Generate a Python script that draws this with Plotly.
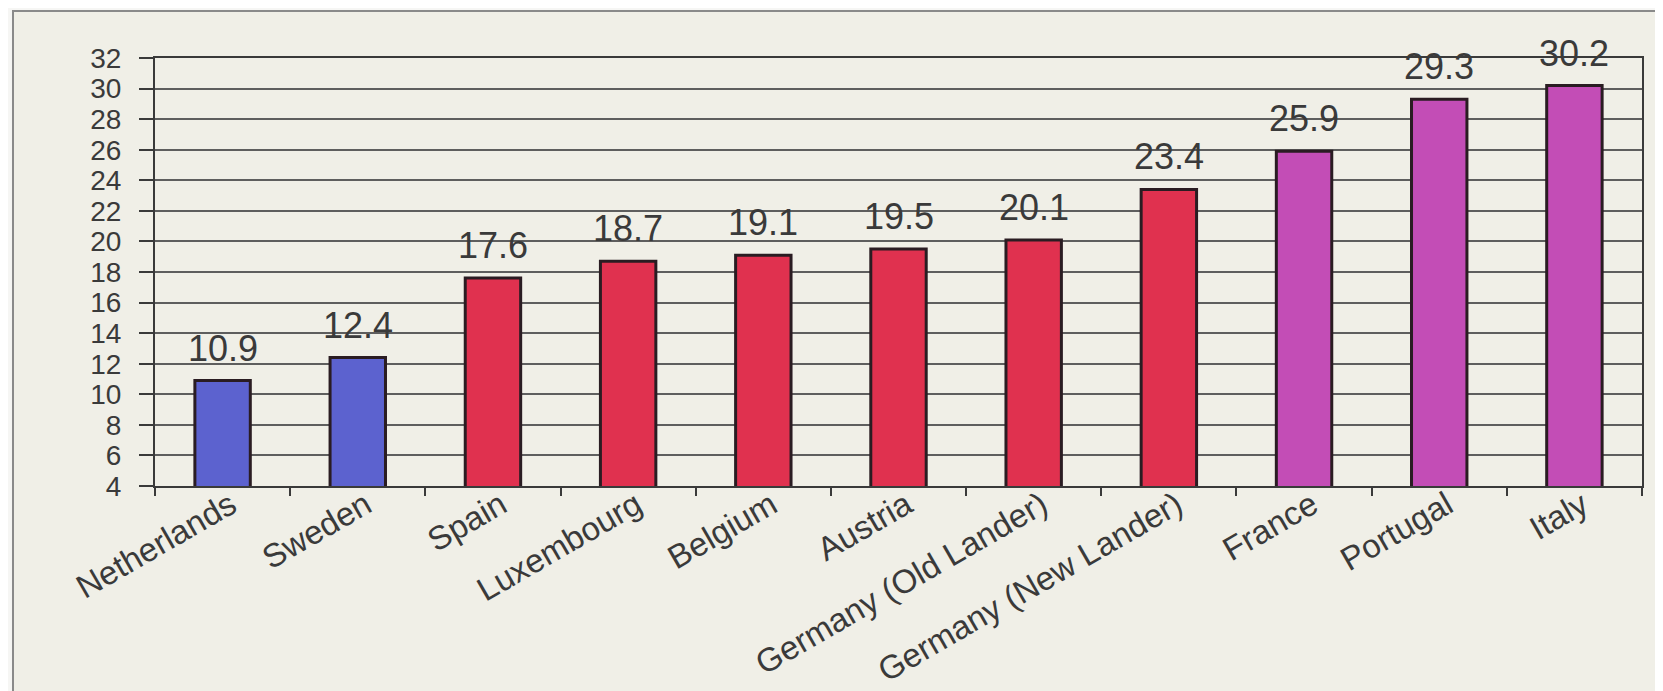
import plotly.graph_objects as go

countries = ["Netherlands", "Sweden", "Spain", "Luxembourg", "Belgium", "Austria",
             "Germany (Old Lander)", "Germany (New Lander)", "France", "Portugal", "Italy"]
values = [10.9, 12.4, 17.6, 18.7, 19.1, 19.5, 20.1, 23.4, 25.9, 29.3, 30.2]
groups = ["low", "low", "mid", "mid", "mid", "mid", "mid", "mid", "high", "high", "high"]
labels = ["10.9", "12.4", "17.6", "18.7", "19.1", "19.5", "20.1", "23.4", "25.9", "29.3", "30.2"]
y_ticks = list(range(4, 33, 2))

group_colors = {"low": "#5c62cf", "mid": "#e0314f", "high": "#c34db6"}
bar_colors = [group_colors[g] for g in groups]

CREAM = "#f0efe7"
OUTSIDE = "#f6f6f4"
INK = "#3a3a3a"
FONT = "Liberation Sans, Arial, sans-serif"

fig = go.Figure()
fig.add_trace(go.Bar(
    x=countries, y=values,
    marker=dict(color=bar_colors, line=dict(color="#2a1c22", width=3)),
    width=0.41,
    hoverinfo="x+y",
))

for c, v, t in zip(countries, values, labels):
    fig.add_annotation(x=c, y=v, text=t, showarrow=False, yanchor="bottom",
                       yshift=10, font=dict(family=FONT, size=36, color=INK))

# scanned page frame
fig.add_shape(type="rect", xref="paper", yref="paper",
              x0=-0.0955, x1=1.05, y0=-0.6, y1=1.11,
              fillcolor=CREAM, line=dict(color="#8a8a8a", width=2), layer="below")

fig.update_layout(
    width=1655, height=683,
    margin=dict(l=147, r=21, t=50, b=205),
    paper_bgcolor=OUTSIDE, plot_bgcolor=CREAM,
    showlegend=False,
    bargap=0.59,
    font=dict(family=FONT, color=INK),
)
fig.update_xaxes(
    type="category", tickangle=-30, automargin=False,
    tickfont=dict(family=FONT, size=33, color=INK),
    ticklabelstandoff=-15, ticklabelshift=8,
    showline=True, linecolor="#3a3a3a", linewidth=2, mirror=True,
    ticks="outside", tickson="boundaries", ticklen=8, tickwidth=2, tickcolor="#3a3a3a",
    showgrid=False,
)
fig.update_yaxes(
    range=[4, 32], tickvals=y_ticks, automargin=False,
    tickfont=dict(family=FONT, size=28, color=INK),
    ticklabelstandoff=12,
    showline=True, linecolor="#3a3a3a", linewidth=2, mirror=True,
    ticks="outside", ticklen=14, tickwidth=2, tickcolor="#3a3a3a",
    showgrid=True, gridcolor="#5e5e5e", gridwidth=1.5,
    zeroline=False,
)

fig.write_html("out.html")
